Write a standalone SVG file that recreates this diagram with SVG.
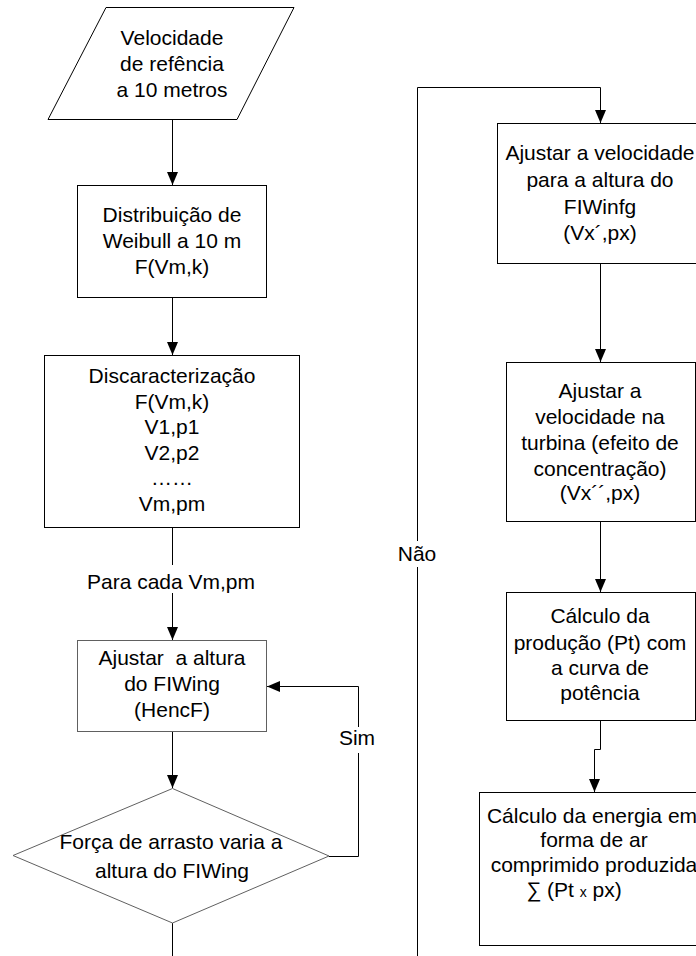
<svg xmlns="http://www.w3.org/2000/svg" width="696" height="956" viewBox="0 0 696 956">
<style>
  .shape { fill: #ffffff; stroke: #000000; stroke-width: 1; }
  .soft { stroke: #606060; }
  .conn { fill: none; stroke: #000000; stroke-width: 1; }
  .arrow { marker-end: url(#ah); }
  text { font-family: "Liberation Sans", Arial, sans-serif; font-size: 21px; fill: #000000; text-anchor: middle; }
</style>
<defs>
  <marker id="ah" viewBox="0 0 13 11" refX="13" refY="5.5" markerWidth="13" markerHeight="11" markerUnits="userSpaceOnUse" orient="auto">
    <path d="M0,0 L13,5.5 L0,11 Z" fill="#000000"/>
  </marker>
</defs>
<rect width="696" height="956" fill="#ffffff"/>

<g id="connectors">
  <path class="conn arrow" d="M172.5,119 V185"/>
  <path class="conn arrow" d="M172.5,298 V355"/>
  <path class="conn" d="M172.5,528 V565"/>
  <path class="conn arrow" d="M172.5,593 V640"/>
  <path class="conn arrow" d="M172.5,732 V788"/>
  <path class="conn" d="M329,856.5 H358.5 V753"/>
  <path class="conn arrow" d="M358.5,727 V686.5 H267"/>
  <path class="conn" d="M172.5,923 V956"/>
  <path class="conn" d="M417.5,956 V567"/>
  <path class="conn arrow" d="M417.5,541 V87.5 H600.5 V123"/>
  <path class="conn arrow" d="M600.5,263 V362"/>
  <path class="conn arrow" d="M600.5,522 V592"/>
  <path class="conn arrow" d="M600.5,721 V749.5 H594.5 V792"/>
  <text x="171" y="589">Para cada Vm,pm</text>
  <text x="357" y="745">Sim</text>
  <text x="417" y="561">Não</text>
</g>

<g id="node-velocidade">
  <polygon class="shape" points="106,7.5 294,7.5 237,119.5 48,119.5"/>
  <text x="172" y="45">Velocidade</text>
  <text x="172" y="71">de refência</text>
  <text x="172" y="97">a 10 metros</text>
</g>

<g id="node-weibull">
  <rect class="shape" x="77.5" y="185.5" width="189" height="112"/>
  <text x="172" y="222">Distribuição de</text>
  <text x="172" y="248">Weibull a 10 m</text>
  <text x="172" y="274">F(Vm,k)</text>
</g>

<g id="node-discaracterizacao">
  <rect class="shape" x="44.5" y="355.5" width="255" height="172"/>
  <text x="172" y="383">Discaracterização</text>
  <text x="172" y="409">F(Vm,k)</text>
  <text x="172" y="434">V1,p1</text>
  <text x="172" y="460">V2,p2</text>
  <text x="172" y="485">……</text>
  <text x="172" y="511">Vm,pm</text>
</g>

<g id="node-ajustar-altura">
  <rect class="shape soft" x="77.5" y="640.5" width="189" height="91"/>
  <text x="172" y="665" xml:space="preserve">Ajustar  a altura</text>
  <text x="172" y="691">do FIWing</text>
  <text x="172" y="717">(HencF)</text>
</g>

<g id="node-decisao">
  <polygon class="shape soft" points="172.5,788.5 329,856 172.5,923 13,855.5"/>
  <text x="171" y="849">Força de arrasto varia a</text>
  <text x="172" y="878">altura do FIWing</text>
</g>

<g id="node-ajustar-velocidade">
  <rect class="shape" x="497.5" y="123.5" width="206" height="140"/>
  <text x="600" y="160">Ajustar a velocidade</text>
  <text x="600" y="187">para a altura do</text>
  <text x="600" y="214">FIWinfg</text>
  <text x="600" y="240">(Vx´,px)</text>
</g>

<g id="node-turbina">
  <rect class="shape" x="506.5" y="362.5" width="189" height="159"/>
  <text x="600" y="398">Ajustar a</text>
  <text x="600" y="424">velocidade na</text>
  <text x="600" y="450">turbina (efeito de</text>
  <text x="600" y="476">concentração)</text>
  <text x="600" y="500">(Vx´´,px)</text>
</g>

<g id="node-producao">
  <rect class="shape" x="506.5" y="592.5" width="189" height="128"/>
  <text x="600" y="623">Cálculo da</text>
  <text x="600" y="650">produção (Pt) com</text>
  <text x="600" y="675">a curva de</text>
  <text x="600" y="700">potência</text>
</g>

<g id="node-energia">
  <rect class="shape" x="479.5" y="792.5" width="230" height="153"/>
  <text x="592" y="823">Cálculo da energia em</text>
  <text x="594" y="847">forma de ar</text>
  <text x="594" y="872">comprimido produzida</text>
  <text x="574" y="897" xml:space="preserve">∑ (Pt <tspan font-size="14">x</tspan> px)</text>
</g>
</svg>
